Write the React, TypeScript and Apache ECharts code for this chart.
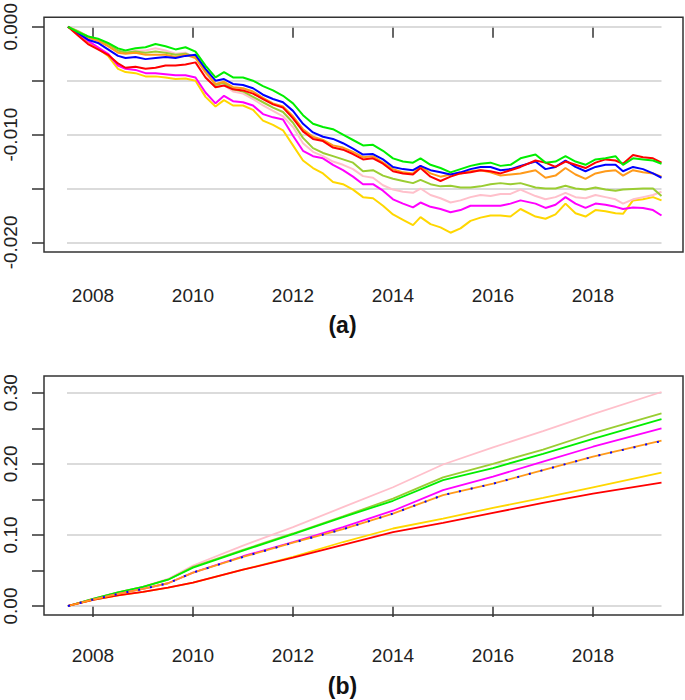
import React, { useEffect, useRef } from "react";
import * as echarts from "echarts";

// ---------- Panel (a): time grid (decimal years) ----------
const yearsA = [
  2007.5, 2007.7, 2007.9, 2008.1, 2008.3, 2008.5, 2008.65, 2008.85, 2009.05, 2009.25,
  2009.45, 2009.65, 2009.85, 2010.05, 2010.25, 2010.45, 2010.62, 2010.8, 2011.0, 2011.2,
  2011.4, 2011.6, 2011.8, 2012.0, 2012.2, 2012.4, 2012.6, 2012.8, 2013.0, 2013.2,
  2013.4, 2013.6, 2013.8, 2014.0, 2014.2, 2014.4, 2014.55, 2014.75, 2014.95, 2015.15,
  2015.35, 2015.55, 2015.75, 2015.95, 2016.15, 2016.35, 2016.55, 2016.85, 2017.05, 2017.25,
  2017.45, 2017.65, 2017.85, 2018.05, 2018.25, 2018.45, 2018.6, 2018.8, 2019.0, 2019.2,
  2019.37,
];

// values in units of 0.001
const greenA = [
  0, -0.5, -0.9, -1.1, -1.5, -2.0, -2.2, -2.0, -1.9, -1.6,
  -1.8, -2.1, -1.9, -2.3, -3.6, -4.7, -4.2, -4.7, -4.7, -5.0,
  -5.5, -5.9, -6.4, -7.1, -8.2, -9.0, -9.3, -9.5, -10.0, -10.5,
  -11.0, -10.95, -11.5, -12.2, -12.5, -12.6, -12.2, -12.8, -13.1, -13.5,
  -13.2, -12.9, -12.7, -12.6, -12.9, -12.8, -12.2, -11.85, -12.6, -12.5,
  -12.0, -12.5, -12.8, -12.3, -12.2, -12.0, -12.8, -12.2, -12.3, -12.4,
  -12.7,
];
const blueA = [
  0, -0.6, -1.2, -1.5, -2.1, -2.7, -2.9, -2.8, -3.0, -2.9,
  -2.8, -2.9, -2.7, -2.6, -3.9, -5.0, -4.85, -5.3, -5.4, -5.7,
  -6.3, -6.7, -7.0, -7.8, -9.0, -9.8, -10.2, -10.4, -10.8, -11.3,
  -11.85, -11.8, -12.3, -13.0, -13.2, -13.3, -12.9, -13.3, -13.5, -13.7,
  -13.5, -13.2, -13.0, -13.0, -13.3, -13.2, -12.9, -12.5, -13.2, -13.0,
  -12.4, -13.0, -13.4, -13.0, -12.8, -12.8, -13.4, -13.0, -13.2, -13.6,
  -14.0,
];
const redA = [
  0, -0.8, -1.6, -2.1, -2.6, -3.4, -3.8, -3.7, -3.9, -3.8,
  -3.6, -3.6, -3.5, -3.3, -4.7, -5.6, -5.45, -5.8, -5.9, -6.2,
  -6.7, -7.2, -7.5, -8.5, -9.7, -10.4, -10.6, -11.2, -11.4, -11.8,
  -12.3, -12.2, -12.7, -13.4, -13.6, -13.7, -13.1, -13.9, -14.3, -13.9,
  -13.6, -13.5, -13.3, -13.4, -13.6, -13.3, -13.0, -12.4, -12.6, -13.0,
  -12.5, -12.8, -13.1, -12.6, -12.3, -12.4, -12.7, -11.9, -12.1, -12.2,
  -12.6,
];
const orangeA = [
  0, -0.5, -1.0, -1.3, -1.8, -2.4, -2.5, -2.4, -2.6, -2.6,
  -2.6, -2.8, -2.6, -2.9, -4.2, -5.3, -5.1, -5.6, -5.7, -6.0,
  -6.6, -7.1, -7.4, -8.3, -9.5, -10.2, -10.5, -11.0, -11.2, -11.6,
  -12.1, -12.0, -12.6, -13.2, -13.5, -13.6, -12.9, -13.6, -13.9, -13.7,
  -13.6, -13.4, -13.3, -13.5, -13.8, -13.7, -13.6, -13.3, -14.0, -13.8,
  -13.1, -13.7, -14.1, -13.6, -13.4, -13.3, -13.8, -13.3, -13.5, -13.6,
  -13.9,
];
const yellowgreenA = [
  0, -0.4, -0.9, -1.2, -1.6, -2.2, -2.4, -2.3, -2.4, -2.3,
  -2.4, -2.6, -2.5, -2.8, -4.1, -5.4, -5.2, -5.8, -6.0, -6.5,
  -7.0, -7.5, -7.9, -8.9, -10.3, -11.25, -11.7, -12.0, -12.3, -12.6,
  -13.4, -13.3, -13.8, -14.1, -14.3, -14.5, -14.2, -14.6, -14.8, -14.75,
  -14.9, -14.9, -14.8, -14.6, -14.5, -14.6, -14.5, -14.9, -15.0, -15.0,
  -14.75, -15.0, -15.1, -14.9, -15.1, -15.2, -15.1, -15.05, -15.0, -15.0,
  -15.7,
];
const pinkA = [
  0, -0.4, -0.9, -1.2, -1.6, -2.2, -2.4, -2.2, -2.2, -2.0,
  -2.2, -2.5, -2.4, -2.9, -4.3, -5.6, -5.4, -6.0, -6.2, -6.7,
  -7.3, -7.8, -8.3, -9.3, -10.8, -11.6, -12.0, -12.5, -12.8, -13.2,
  -13.85, -14.0, -14.7, -15.1, -15.3, -15.4, -15.0, -15.6, -15.9, -16.3,
  -16.1, -15.8, -15.6, -15.7, -15.5, -15.5, -15.1, -15.7, -16.0, -15.8,
  -15.4, -15.8, -15.9, -15.6, -15.8, -16.0, -16.4, -16.0, -15.8, -15.6,
  -15.3,
];
const magentaA = [
  0, -0.6, -1.3, -1.9, -2.5, -3.6, -3.9, -4.0, -4.3, -4.3,
  -4.4, -4.5, -4.5, -4.7, -6.1, -7.1, -6.4, -6.9, -7.0, -7.3,
  -8.1, -8.4, -8.6, -10.1, -11.5, -12.0, -12.2, -12.8, -13.3, -13.9,
  -14.6, -14.6, -15.2, -16.0, -16.4, -16.75, -16.3, -16.7, -16.9, -17.2,
  -17.0, -16.6, -16.6, -16.6, -16.6, -16.4, -16.1, -16.4, -16.8, -16.5,
  -15.8, -16.4, -16.8, -16.4, -16.5, -16.7, -16.9, -16.75, -16.8, -17.0,
  -17.5,
];
const goldA = [
  0, -0.7, -1.4, -2.0, -2.7, -3.9, -4.2, -4.3, -4.6, -4.6,
  -4.7, -4.85, -4.8, -5.0, -6.5, -7.4, -6.8, -7.3, -7.3, -7.7,
  -8.7, -9.1, -9.6, -11.0, -12.4, -13.1, -13.6, -14.4, -14.6, -15.1,
  -15.8, -15.9, -16.6, -17.4, -17.9, -18.4, -17.65, -18.3, -18.6, -19.1,
  -18.7, -18.0, -17.7, -17.5, -17.5, -17.6, -16.9, -17.6, -17.8, -17.4,
  -16.4, -17.3, -17.6, -17.0, -17.1, -17.3, -17.35, -16.1, -16.0, -15.8,
  -16.1,
];

// ---------- Panel (b) ----------
const yearsB = [2007.5, 2008, 2008.5, 2009, 2009.5, 2010, 2011, 2012, 2013, 2014, 2015, 2016, 2017, 2018, 2019.37];
const pinkB = [0, 0.01, 0.019, 0.027, 0.038, 0.057, 0.085, 0.111, 0.139, 0.167, 0.199, 0.223, 0.246, 0.27, 0.301];
const yellowgreenB = [0, 0.01, 0.019, 0.027, 0.037, 0.055, 0.079, 0.102, 0.126, 0.151, 0.181, 0.2, 0.22, 0.243, 0.271];
const greenB = [0, 0.01, 0.019, 0.027, 0.037, 0.054, 0.078, 0.101, 0.125, 0.148, 0.177, 0.194, 0.214, 0.235, 0.263];
const magentaB = [0, 0.009, 0.017, 0.024, 0.032, 0.047, 0.07, 0.09, 0.111, 0.134, 0.163, 0.182, 0.203, 0.224, 0.25];
const orangeB = [0, 0.009, 0.017, 0.024, 0.032, 0.047, 0.069, 0.089, 0.108, 0.13, 0.156, 0.172, 0.191, 0.21, 0.2325];
const blueB = [0, 0.009, 0.017, 0.024, 0.032, 0.047, 0.069, 0.089, 0.108, 0.13, 0.156, 0.172, 0.191, 0.21, 0.232];
const goldB = [0, 0.0085, 0.015, 0.02, 0.026, 0.033, 0.051, 0.069, 0.09, 0.109, 0.123, 0.138, 0.152, 0.167, 0.1875];
const redB = [0, 0.0085, 0.015, 0.02, 0.026, 0.033, 0.051, 0.068, 0.086, 0.104, 0.117, 0.131, 0.145, 0.158, 0.1734];

// ---------- Ticks ----------
const xTicks = [2008, 2010, 2012, 2014, 2016, 2018];
const yTicksA = [-0.02, -0.015, -0.01, -0.005, 0];
const yLabelsA = [-0.02, -0.01, 0];
const yTicksB = [0, 0.05, 0.1, 0.15, 0.2, 0.25, 0.3];
const yLabelsB = [0, 0.1, 0.2, 0.3];
const gridLinesA = [0, -0.005, -0.01, -0.015, -0.02];
const gridLinesB = [0, 0.1, 0.2, 0.3];

const FONT = "Liberation Sans, Arial, sans-serif";
const INK = "#222";

export default function App() {
  const ref = useRef<HTMLDivElement>(null);
  useEffect(() => {
    document.body.style.margin = "0";
    const chart = echarts.init(ref.current!, null, { renderer: "svg" });

    const pairs = (xs: number[], ys: number[], k = 1) => xs.map((x, i) => [x, ys[i] * k]);

    const xAxisBase = (gi: number) => ({
      type: "value" as const,
      gridIndex: gi,
      min: 2007.02,
      max: 2019.8,
      axisLine: { show: false },
      splitLine: { show: false },
      axisTick: { show: true, customValues: xTicks, length: 11, lineStyle: { color: "#333", width: 1.5 } },
      axisLabel: {
        customValues: xTicks,
        margin: gi === 0 ? 34 : 31,
        fontSize: 19,
        color: INK,
        fontFamily: FONT,
        formatter: (v: number) => String(Math.round(v)),
      },
    });

    const grid0 = (gi: number, vals: number[], x0: number, x1: number) => ({
      type: "line",
      xAxisIndex: gi,
      yAxisIndex: gi,
      data: [],
      z: 1,
      silent: true,
      markLine: {
        silent: true,
        symbol: ["none", "none"],
        z: 1,
        label: { show: false },
        lineStyle: { type: "solid", color: "#cfcfcf", width: 1.6 },
        data: vals.map((v) => [{ coord: [x0, v] }, { coord: [x1, v] }]),
      },
    });

    const lineA = (name: string, data: number[], color: string) => ({
      name,
      type: "line",
      xAxisIndex: 0,
      yAxisIndex: 0,
      data: pairs(yearsA, data, 0.001),
      showSymbol: false,
      symbol: "none",
      z: 3,
      lineStyle: { color, width: 2 },
    });
    const lineB = (name: string, data: number[], color: string, extra: any = {}) => ({
      name,
      type: "line",
      xAxisIndex: 1,
      yAxisIndex: 1,
      data: pairs(yearsB, data),
      showSymbol: false,
      symbol: "none",
      z: 3,
      lineStyle: { color, width: 1.8, ...extra },
    });

    chart.setOption({
      animation: false,
      backgroundColor: "#fff",
      grid: [
        { left: 44, top: 14, width: 639, height: 238, show: true, borderColor: "#333", borderWidth: 1.5 },
        { left: 44, top: 376, width: 639, height: 239, show: true, borderColor: "#333", borderWidth: 1.5 },
      ],
      xAxis: [xAxisBase(0), xAxisBase(1)],
      yAxis: [
        {
          type: "value",
          gridIndex: 0,
          min: -0.020887,
          max: 0.000887,
          axisLine: { show: false },
          splitLine: { show: false },
          axisTick: { show: true, customValues: yTicksA, length: 12, lineStyle: { color: "#333", width: 1.5 } },
          axisLabel: {
            customValues: yLabelsA,
            rotate: 90,
            margin: 24,
            fontSize: 19,
            color: INK,
            fontFamily: FONT,
            formatter: (v: number) => v.toFixed(3),
          },
        },
        {
          type: "value",
          gridIndex: 1,
          min: -0.01266,
          max: 0.3235,
          axisLine: { show: false },
          splitLine: { show: false },
          axisTick: { show: true, customValues: yTicksB, length: 12, lineStyle: { color: "#333", width: 1.5 } },
          axisLabel: {
            customValues: yLabelsB,
            rotate: 90,
            margin: 24,
            fontSize: 19,
            color: INK,
            fontFamily: FONT,
            formatter: (v: number) => v.toFixed(2),
          },
        },
      ],
      graphic: [
        { type: "text", left: "center", top: 313, style: { text: "(a)", font: "bold 23px Liberation Sans, Arial, sans-serif", fill: "#111" } },
        { type: "text", left: "center", top: 674, style: { text: "(b)", font: "bold 23px Liberation Sans, Arial, sans-serif", fill: "#111" } },
      ],
      series: [
        grid0(0, gridLinesA, 2007.48, 2019.37),
        grid0(1, gridLinesB, 2007.48, 2019.37),
        lineA("gold", goldA, "#FFD700"),
        lineA("magenta", magentaA, "#FF00FF"),
        lineA("pink", pinkA, "#FFC0CB"),
        lineA("yellowgreen", yellowgreenA, "#9ACD32"),
        lineA("orange", orangeA, "#FF9A1A"),
        lineA("blue", blueA, "#0000FF"),
        lineA("red", redA, "#FF0000"),
        lineA("green", greenA, "#00EE00"),
        lineB("pink", pinkB, "#FFC0CB"),
        lineB("yellowgreen", yellowgreenB, "#9ACD32"),
        lineB("green", greenB, "#00EE00"),
        lineB("magenta", magentaB, "#FF00FF"),
        lineB("gold", goldB, "#FFD700"),
        lineB("red", redB, "#FF0000"),
        lineB("orange", orangeB, "#FF9A1A"),
        lineB("blue", blueB, "#0000FF", { type: [2, 10], width: 2 }),
      ],
    });
    return () => chart.dispose();
  }, []);
  return <div ref={ref} style={{ width: 685, height: 700 }} />;
}
